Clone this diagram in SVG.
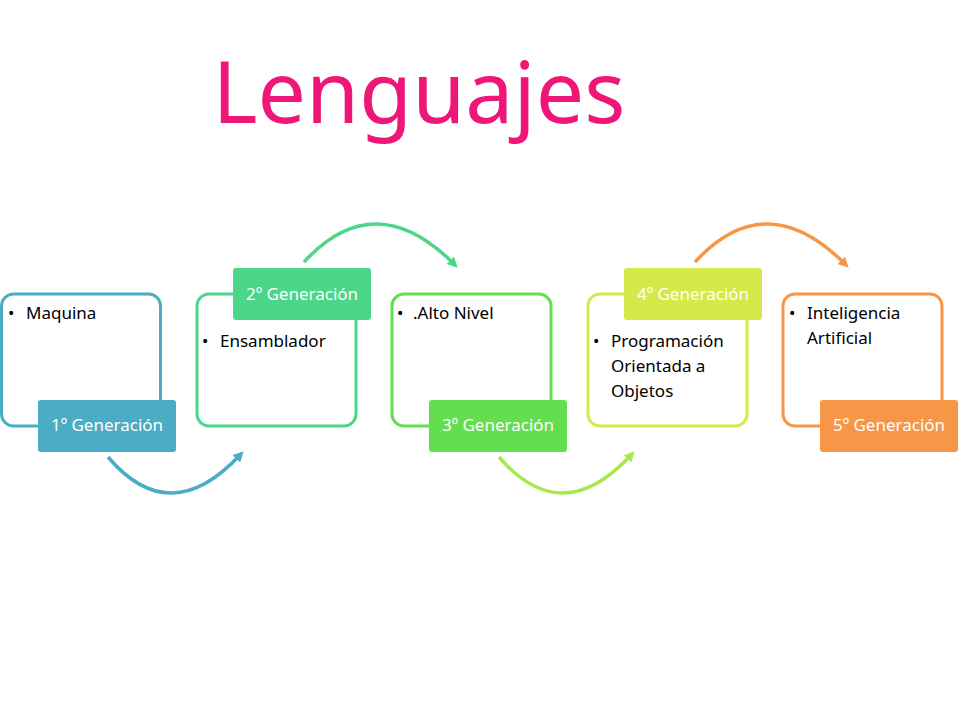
<svg xmlns="http://www.w3.org/2000/svg" width="960" height="720" viewBox="0 0 960 720">
<defs>
<style>
.box{fill:#fff;stroke-width:3}
.lab{font-family:"Noto Sans","Liberation Sans",sans-serif;font-size:17px;fill:#fff;text-anchor:middle}
.txt{font-family:"Noto Sans","Liberation Sans",sans-serif;font-size:17px;fill:#000}
.arc{fill:none;stroke-width:3.5}
</style>
<marker id="mb" viewBox="0 0 10 10" refX="5" refY="5" markerWidth="3" markerHeight="3" orient="auto"><path d="M0,0L10,5L0,10z" fill="#4BACC6"/></marker>
<marker id="mg" viewBox="0 0 10 10" refX="5" refY="5" markerWidth="3" markerHeight="3" orient="auto"><path d="M0,0L10,5L0,10z" fill="#4CD68A"/></marker>
<marker id="ml" viewBox="0 0 10 10" refX="5" refY="5" markerWidth="3" markerHeight="3" orient="auto"><path d="M0,0L10,5L0,10z" fill="#A8E84A"/></marker>
<marker id="mo" viewBox="0 0 10 10" refX="5" refY="5" markerWidth="3" markerHeight="3" orient="auto"><path d="M0,0L10,5L0,10z" fill="#F79646"/></marker>
</defs>
<rect width="960" height="720" fill="#fff"/>
<text x="419" y="123" font-family="Noto Sans,Liberation Sans,sans-serif" font-size="86" fill="#EE1677" text-anchor="middle">Lenguajes</text>
<g id="connectors">
<path class="arc" stroke="#4BACC6" marker-end="url(#mb)" d="M108,457 Q170,530 240,455"/>
<path class="arc" stroke="#4CD68A" marker-end="url(#mg)" d="M304,262 Q375,185 454,264"/>
<path class="arc" stroke="#A8E84A" marker-end="url(#ml)" d="M499,457 Q562,530 631,455"/>
<path class="arc" stroke="#F79646" marker-end="url(#mo)" d="M695,262 Q766,185 845,264"/>
</g>
<g id="n1">
<rect class="box" x="1.5" y="294" width="159" height="132" rx="12" stroke="#4BACC6"/>
<text class="txt" x="8" y="319">•</text><text class="txt" x="26" y="319">Maquina</text>
<rect x="38" y="400" width="138" height="52" rx="3" fill="#4BACC6"/>
<text class="lab" x="107" y="431">1º Generación</text>
</g>
<g id="n2">
<rect class="box" x="197" y="294" width="159" height="132" rx="12" stroke="#4CD68A"/>
<text class="txt" x="202" y="347">•</text><text class="txt" x="220" y="347">Ensamblador</text>
<rect x="233" y="268" width="138" height="52" rx="3" fill="#4CD68A"/>
<text class="lab" x="302" y="300">2º Generación</text>
</g>
<g id="n3">
<rect class="box" x="392" y="294" width="159" height="132" rx="12" stroke="#63DE4E"/>
<text class="txt" x="397" y="319">•</text><text class="txt" x="413" y="319">.Alto Nivel</text>
<rect x="429" y="400" width="138" height="52" rx="3" fill="#63DE4E"/>
<text class="lab" x="498" y="431">3º Generación</text>
</g>
<g id="n4">
<rect class="box" x="588" y="294" width="159" height="132" rx="12" stroke="#D5EA48"/>
<text class="txt" x="593" y="347">•</text>
<text class="txt" x="611" y="347">Programación</text>
<text class="txt" x="611" y="372">Orientada a</text>
<text class="txt" x="611" y="397">Objetos</text>
<rect x="624" y="268" width="138" height="52" rx="3" fill="#D5EA48"/>
<text class="lab" x="693" y="300">4º Generación</text>
</g>
<g id="n5">
<rect class="box" x="783" y="294" width="159" height="132" rx="12" stroke="#F79646"/>
<text class="txt" x="789" y="319">•</text>
<text class="txt" x="807" y="319">Inteligencia</text>
<text class="txt" x="807" y="344">Artificial</text>
<rect x="820" y="400" width="138" height="52" rx="3" fill="#F79646"/>
<text class="lab" x="889" y="431">5º Generación</text>
</g>
</svg>
